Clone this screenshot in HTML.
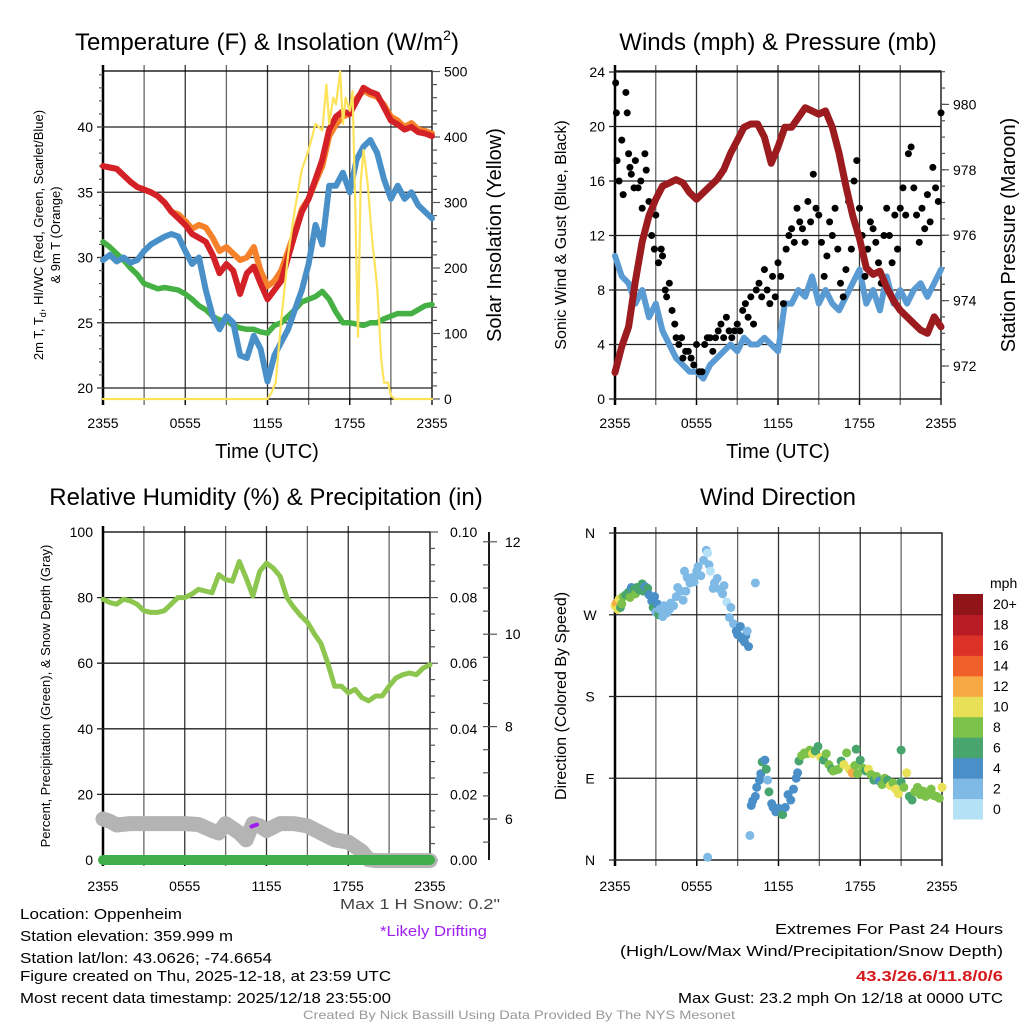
<!DOCTYPE html>
<html><head><meta charset="utf-8"><style>
html,body{margin:0;padding:0;background:#fff;}
svg{display:block;font-family:"Liberation Sans",Arial,sans-serif;}
</style></head><body>
<svg id="chart" xmlns="http://www.w3.org/2000/svg" width="1024" height="1024" viewBox="0 0 1024 1024">
<rect x="0" y="0" width="1024" height="1024" fill="#fff"/>
<g id="texts" fill="#000">
<text x="267" y="50" font-size="24" text-anchor="middle">Temperature (F) &amp; Insolation (W/m<tspan font-size="14" dy="-10">2</tspan><tspan dy="10">)</tspan></text>
<text x="778" y="50" font-size="24" text-anchor="middle">Winds (mph) &amp; Pressure (mb)</text>
<text x="266" y="505" font-size="24" text-anchor="middle">Relative Humidity (%) &amp; Precipitation (in)</text>
<text x="778" y="505" font-size="24" text-anchor="middle">Wind Direction</text>
<text x="267" y="458" font-size="20" text-anchor="middle">Time (UTC)</text>
<text x="778" y="458" font-size="20" text-anchor="middle">Time (UTC)</text>
<text transform="translate(43,235) rotate(-90)" font-size="13" text-anchor="middle">2m T, T<tspan font-size="9" dy="3">d</tspan><tspan dy="-3">, HI/WC (Red, Green, Scarlet/Blue)</tspan></text>
<text transform="translate(60,235) rotate(-90)" font-size="13" text-anchor="middle">&amp; 9m T (Orange)</text>
<text transform="translate(501,235) rotate(-90)" font-size="20" text-anchor="middle">Solar Insolation (Yellow)</text>
<text transform="translate(566,235) rotate(-90)" font-size="16" text-anchor="middle">Sonic Wind &amp; Gust (Blue, Black)</text>
<text transform="translate(1015,235) rotate(-90)" font-size="20" text-anchor="middle">Station Pressure (Maroon)</text>
<text transform="translate(50,696) rotate(-90)" font-size="13" text-anchor="middle">Percent, Precipitation (Green), &amp; Snow Depth (Gray)</text>
<text transform="translate(566,696) rotate(-90)" font-size="16" text-anchor="middle">Direction (Colored By Speed)</text>
<text x="990" y="588" font-size="14">mph</text>
<g font-size="15">
<text x="20" y="919" textLength="162" lengthAdjust="spacingAndGlyphs">Location: Oppenheim</text>
<text x="20" y="941" textLength="213" lengthAdjust="spacingAndGlyphs">Station elevation: 359.999 m</text>
<text x="20" y="963" textLength="252" lengthAdjust="spacingAndGlyphs">Station lat/lon: 43.0626; -74.6654</text>
<text x="20" y="981" textLength="371" lengthAdjust="spacingAndGlyphs">Figure created on Thu, 2025-12-18, at 23:59 UTC</text>
<text x="20" y="1003" textLength="371" lengthAdjust="spacingAndGlyphs">Most recent data timestamp: 2025/12/18 23:55:00</text>
<text x="340" y="909" fill="#444" textLength="160" lengthAdjust="spacingAndGlyphs">Max 1 H Snow: 0.2"</text>
<text x="380" y="936" fill="#a020f0" textLength="107" lengthAdjust="spacingAndGlyphs">*Likely Drifting</text>
<text x="775" y="934" textLength="228" lengthAdjust="spacingAndGlyphs">Extremes For Past 24 Hours</text>
<text x="620" y="956" textLength="383" lengthAdjust="spacingAndGlyphs">(High/Low/Max Wind/Precipitation/Snow Depth)</text>
<text x="856" y="981" fill="#d7191c" font-weight="bold" textLength="147" lengthAdjust="spacingAndGlyphs">43.3/26.6/11.8/0/6</text>
<text x="678" y="1003" textLength="325" lengthAdjust="spacingAndGlyphs">Max Gust: 23.2 mph On 12/18 at 0000 UTC</text>
</g>
<text x="303" y="1019" font-size="12" fill="#999" textLength="432" lengthAdjust="spacingAndGlyphs">Created By Nick Bassill Using Data Provided By The NYS Mesonet</text>
</g>
</svg>
<script>
// ---------- DATA ----------
const timeLabels = ["2355","0555","1155","1755","2355"];
const halfHours = [0,0.5,1,1.5,2,2.5,3,3.5,4,4.5,5,5.5,6,6.5,7,7.5,8,8.5,9,9.5,10,10.5,11,11.5,12,12.5,13,13.5,14,14.5,15,15.5,16,16.5,17,17.5,18,18.5,19,19.5,20,20.5,21,21.5,22,22.5,23,23.5,24];
const tempRed = [37.0,36.9,36.8,36.3,35.8,35.4,35.2,35.0,34.7,34.2,33.5,33.0,32.5,31.8,31.5,31.2,30.2,28.8,29.5,29.0,27.2,28.8,29.3,28.0,26.8,27.5,28.2,30.0,31.8,33.5,34.5,36.0,37.5,39.8,40.8,41.2,41.0,42.0,43.0,42.7,42.5,41.5,40.5,40.2,39.8,40.0,39.6,39.5,39.3];
const temp9mOrange = [37.0,36.9,36.8,36.3,35.8,35.4,35.2,35.0,34.7,34.2,33.5,33.3,32.8,32.2,32.5,32.3,31.5,30.5,30.8,30.3,29.8,30.0,30.8,29.0,27.8,28.2,29.0,30.5,32.0,33.7,34.5,35.8,37.0,39.3,40.2,40.8,41.0,42.2,42.8,42.5,42.3,41.7,40.8,40.5,40.0,40.3,39.8,39.7,39.5];
const dewBlue = [29.8,30.2,29.7,30.0,29.6,29.8,30.5,31.0,31.3,31.6,31.8,31.6,30.5,29.5,30.0,27.5,25.5,24.5,25.5,25.0,22.5,22.3,24.0,23.0,20.5,22.5,23.5,24.5,26.0,27.5,29.5,32.5,31.0,35.5,35.5,36.5,35.0,37.5,38.5,39.0,38.0,36.0,34.5,35.5,34.5,35.0,34.0,33.5,33.0];
const dewGreen = [31.2,30.8,30.3,29.8,29.2,28.7,28.0,27.8,27.6,27.7,27.6,27.5,27.2,26.8,26.3,26.0,25.5,25.2,25.2,24.8,24.6,24.5,24.5,24.3,24.2,24.8,25.0,25.5,26.0,26.6,26.8,27.0,27.4,26.8,25.8,25.0,25.0,24.9,24.8,25.0,25.0,25.3,25.5,25.7,25.7,25.7,26.0,26.3,26.4];
const solarTimes = [0,12,12.3,12.6,13,13.5,14,14.5,15,15.5,16,16.3,16.5,16.8,17,17.3,17.5,17.7,18,18.2,18.4,18.6,18.8,19,19.3,19.6,20,20.3,20.5,20.8,21,21.3,24];
const solarValues = [0,0,10,25,120,220,290,350,380,420,410,480,420,460,450,500,420,460,440,470,300,95,330,380,330,250,170,60,25,25,5,0,0];
const windSustained = [10.5,9,8.5,7,8,6,7,5,4,3,2.5,2,2,1.5,2.5,3,3.5,4,3.5,4.5,4,4,4.5,4,3.5,7,7,8,7.5,9,7,8,7,6.5,7.5,8.5,9.5,7,8,6.5,9,7,8,7,8,8.5,7.5,8.5,9.5];
const pressure = [971.8,972.6,973.2,974.6,975.8,976.6,977.1,977.5,977.6,977.7,977.6,977.3,977.1,977.3,977.5,977.7,978.0,978.5,978.9,979.3,979.4,979.4,979.0,978.2,978.7,979.3,979.3,979.6,979.9,979.8,979.7,979.8,979.3,978.5,977.5,976.6,975.9,975.0,974.8,974.9,974.4,974.0,973.7,973.5,973.3,973.1,973.0,973.5,973.2];
const gustTimes = [0.05,0.1,0.15,0.3,0.5,0.6,0.8,0.9,1.0,1.1,1.2,1.4,1.5,1.7,1.9,2.0,2.2,2.3,2.5,2.7,2.9,3.0,3.2,3.4,3.5,3.7,3.8,4.0,4.2,4.4,4.5,4.7,4.9,5.0,5.2,5.4,5.6,5.8,6.0,6.2,6.4,6.6,6.8,7.0,7.2,7.4,7.6,7.8,8.0,8.2,8.4,8.6,8.8,9.0,9.2,9.4,9.6,9.8,10.0,10.2,10.4,10.6,10.8,11.0,11.2,11.4,11.6,11.8,12.0,12.2,12.4,12.6,12.8,13.0,13.2,13.4,13.6,13.8,14.0,14.2,14.4,14.6,14.8,15.0,15.2,15.4,15.6,15.8,16.0,16.2,16.4,16.6,16.8,17.0,17.2,17.4,17.6,17.8,18.0,18.2,18.4,18.6,18.8,19.0,19.2,19.4,19.6,19.8,20.0,20.2,20.4,20.6,20.8,21.0,21.2,21.4,21.6,21.8,22.0,22.2,22.4,22.6,22.8,23.0,23.2,23.4,23.6,23.8,24.0];
const gustValues = [23.2,21,17.5,16,19,15,22.5,21,18,17,16.5,15.5,17.5,15.5,16,14,18,16.8,14.5,12,11,13.5,10,11,10.5,8,7.5,8.5,6.5,5.5,4.5,4,4.5,3,3.5,3.5,3,2.5,4,2,2,4,4.5,4.5,3.5,4.5,5,5.5,4.5,6,5,4.5,5,5.5,5,6.5,7,6,7.5,5.5,8,8.5,7.5,9.5,8,7,9,7.5,10,9,7,11,12,12.5,11.5,14,13,12.5,11.5,14.5,13,16.5,14,13.5,11.5,9,10.5,13,12,14,11,8.5,7.5,9.5,14.5,11,16,17.5,14,12,9,11,13,12.5,11.5,10,8.5,12,14,12,10,13.5,11,14,15.5,13.5,18,18.5,15.5,13.5,11.5,14,12.5,15,13,17,15.5,14.5,21];
const rhValues = [79.5,78.5,78,79.5,79,78,76,75.5,75.5,76,78,80,80,81,82.5,82,81.5,87,85.5,85,91,86,80.5,88,90.5,89,86.5,80,77,74.5,72.5,69,66,60,53,53,51,52,49.5,48.5,50,50,53,55.5,56.5,57,56.5,58.5,59.5];
const snowTimes = [0,0.5,1,2,3,4,5,6,7,8,8.5,9,10,10.5,11,11.5,12,13,14,15,16,17,18,19,19.5,20,21,22,23,24];
const snowDepth = [6.0,5.95,5.87,5.9,5.9,5.9,5.9,5.9,5.88,5.75,5.7,5.9,5.7,5.55,5.9,5.85,5.75,5.9,5.9,5.85,5.7,5.55,5.5,5.3,5.12,5.1,5.1,5.1,5.1,5.1];
const precipTimes = [0,24];
const precipValues = [0,0];
const dirTimes = [0.0,0.1,0.2,0.3,0.4,0.5,0.6,0.8,1.0,1.1,1.2,1.4,1.5,1.6,1.8,2.0,2.1,2.2,2.4,2.5,2.7,2.8,2.9,3.0,3.1,3.2,3.3,3.5,3.6,3.8,4.0,4.1,4.3,4.5,4.6,4.8,5.0,5.1,5.2,5.3,5.5,5.7,5.8,6.0,6.1,6.3,6.5,6.7,6.8,6.9,7.0,7.2,7.3,7.5,7.7,7.9,8.0,8.2,8.4,8.5,8.7,8.9,9.0,9.2,9.3,9.5,9.6,9.7,9.8,10.3,6.8,9.9,10.0,10.1,10.3,10.4,10.6,10.7,10.8,11.0,11.1,11.2,11.3,11.5,11.6,11.8,12.0,12.3,12.5,12.7,12.9,13.1,13.3,13.4,13.5,13.7,13.9,14.1,14.3,14.5,14.7,14.9,15.1,15.3,15.5,15.7,15.9,16.0,16.2,16.4,16.6,16.8,17.0,17.2,17.4,17.6,17.8,18.0,18.2,18.4,18.6,18.8,19.0,19.2,19.4,19.6,19.8,20.0,20.2,20.4,20.6,20.8,21.0,21.2,21.4,21.6,21.8,22.0,22.2,22.4,22.6,22.8,23.0,23.2,23.4,23.6,23.8,24.0,21.0,17.7];
const dirDegrees = [280,283,276,287,278,282,290,292,295,289,300,298,293,300,297,304,296,301,299,292,285,278,290,273,282,270,276,268,280,272,276,283,280,290,300,296,286,318,296,311,305,311,306,318,323,313,330,341,338,325,318,299,305,310,298,293,302,284,267,278,260,252,248,257,244,240,247,252,235,305,3,27,60,65,70,80,88,95,108,110,100,88,75,62,58,53,57,50,58,72,66,78,90,96,109,115,118,117,121,117,120,125,113,110,117,105,100,98,99,100,109,105,118,100,96,104,95,110,101,98,100,94,88,92,87,83,90,88,82,85,78,73,86,80,96,70,66,75,80,72,76,70,72,78,71,70,68,80,121,122];
const dirSpeeds = [10,12,10,10,7,9,8,7,6,8,5,7,8,6,7,7,6,5,6,4,4,6,4,3,4,6,3,2,2,3,2,2,3,2,2,3,2,3,2,2,2,3,2,2,2,2,3,2,1,2,1,2,2,2,2,2,2,1,2,2,2,4,4,4,4,4,4,2,4,2,2,2,4,4,4,4,4,4,6,4,6,2,6,4,4,4,4,6,4,4,4,4,4,4,6,8,8,8,8,10,6,6,10,6,8,8,6,8,8,8,6,10,8,10,12,8,8,6,8,6,10,8,6,8,4,8,8,6,10,8,10,10,6,8,10,6,6,8,8,8,8,8,8,8,8,8,8,10,6,6];
const speedColors = ["#b5e1f7","#7fbae6","#4a8fc8","#48a56e","#7cc24a","#e8e158","#f7a945","#f0602a","#dc3127","#b91c24","#8f1519"];
const speedLabels = ["0","2","4","6","8","10","12","14","16","18","20+"];
const tempTicks = [20,25,30,35,40];
const solarTicks = [0,100,200,300,400,500];
const windTicks = [0,4,8,12,16,20,24];
const pressureTicks = [972,974,976,978,980];
const rhTicks = [0,20,40,60,80,100];
const precipTicks = ["0.00","0.02","0.04","0.06","0.08","0.10"];
const snowTicks = [6,8,10,12];
const dirTicks = ["N","E","S","W","N"];

// ---------- HELPERS ----------
const svg = document.getElementById('chart');
const NS = 'http://www.w3.org/2000/svg';
function mk(tag, attrs, parent){const e=document.createElementNS(NS,tag);for(const k in attrs)e.setAttribute(k,attrs[k]);(parent||svg).appendChild(e);return e;}
function pathD(ts, vs, xf, yf){let d='';for(let i=0;i<ts.length;i++){d+=(i?'L':'M')+xf(ts[i]).toFixed(1)+','+yf(vs[i]).toFixed(1);}return d;}

const P1={x0:103,x1:432,y0:71,y1:399};
const P2={x0:615,x1:941,y0:71,y1:399};
const P3={x0:103,x1:430,y0:532,y1:860};
const P4={x0:615,x1:942,y0:533,y1:860};
function tx(P){return t=>P.x0+t*(P.x1-P.x0)/24;}
const x1=tx(P1), x2=tx(P2), x3=tx(P3), x4=tx(P4);
const yT=v=>388-(v-20)*13.05;
const yS=v=>399-v*0.655;
const yW=v=>399-v*13.625;
const yP=v=>366-(v-972)*32.7;
const yR=v=>860-v*3.28;
const yPr=v=>860-v*3280;
const ySn=v=>819-(v-6)*46.2;
const yD=v=>860-v/360*327;

function frame(P, name, xf, labelY){
  const g=mk('g',{});
  
  
  for(let t=3;t<24;t+=3){
    const l=mk('line',{x1:xf(t),x2:xf(t),y1:P.y0-6,y2:P.y1+6,stroke:(t%6==0)?'#333':'#666','stroke-width':1.3},g);
    
    
  }
  const r=mk('rect',{x:P.x0,y:P.y0,width:P.x1-P.x0,height:P.y1-P.y0,fill:'none',stroke:'#000','stroke-width':1.3},g);
  
  
  const la=mk('line',{x1:P.x0,x2:P.x0,y1:P.y0-6,y2:P.y1+6,stroke:'#000','stroke-width':2.5},g);
  
  
  for(let i=0;i<timeLabels.length;i++){
    const t=i*6;
    const tk=mk('line',{x1:xf(t),x2:xf(t),y1:P.y1,y2:P.y1+6,stroke:'#000','stroke-width':1.3},g);
    
    
    const tt=mk('text',{x:xf(t),y:labelY,'font-size':14,'text-anchor':'middle'},g);
    tt.textContent=timeLabels[i];
    
    
  }
  return g;
}
function hgrid(P, y, name){
  const l=mk('line',{x1:P.x0-6,x2:P.x1,y1:y,y2:y,stroke:'#222','stroke-width':1.3});
  
  
}
function ylabel(x, y, txt, anchor, name, size){
  const t=mk('text',{x:x,y:y+5,'font-size':size||14,'text-anchor':anchor});
  t.textContent=txt;
  
  
}
function rtick(x,y,len,name,P){
  if(P && (y<P.y0-0.5 || y>P.y1+0.5)) return;
  const l=mk('line',{x1:x,x2:x+len,y1:y,y2:y,stroke:'#555','stroke-width':1.2});
  
  
}
function line(d, color, w, name){
  const p=mk('path',{d:d,fill:'none',stroke:color,'stroke-width':w,'stroke-linejoin':'round','stroke-linecap':'round'});
  
  
  return p;
}

// ---------- PANEL 1 ----------
frame(P1,'temp',x1,428);
tempTicks.forEach(v=>{hgrid(P1,yT(v),'temp-y-grid');ylabel(P1.x0-10,yT(v),String(v),'end','temp-y-tick-label');});
for(let v=20;v<=44;v++){rtick(P1.x0-4,yT(v),4,'temp-minor-tick',P1);}
for(let v=0;v<=500;v+=20){rtick(P1.x1,yS(v),v%100==0?8:5,'solar-tick',P1);}
solarTicks.forEach(v=>ylabel(P1.x1+12,yS(v),String(v),'start','solar-tick-label'));
line(pathD(halfHours,dewGreen,x1,yT),'#45b043',5.5,'dewpoint-green-line');
line(pathD(halfHours,dewBlue,x1,yT),'#4a90c8',6,'windchill-blue-line');
line(pathD(halfHours,temp9mOrange,x1,yT),'#f5822a',6,'temp-9m-orange-line');
line(pathD(halfHours,tempRed,x1,yT),'#d42027',6,'temp-2m-red-line');
line(pathD(solarTimes,solarValues,x1,yS),'#fde35a',2.2,'solar-insolation-line');

// ---------- PANEL 2 ----------
frame(P2,'wind',x2,428);
windTicks.forEach(v=>{hgrid(P2,yW(v),'wind-y-grid');ylabel(P2.x0-10,yW(v),String(v),'end','wind-y-tick-label');});
for(let v=971.5;v<=981.5;v+=0.5){rtick(P2.x1,yP(v),4,'pressure-minor-tick',P2);}
pressureTicks.forEach(v=>{rtick(P2.x1,yP(v),8,'pressure-tick',P2);ylabel(P2.x1+12,yP(v),String(v),'start','pressure-tick-label');});
line(pathD(halfHours,windSustained,x2,yW),'#5a9bd3',6,'sustained-wind-line');
const gustG=mk('g',{fill:'#000'});


for(let i=0;i<gustTimes.length;i++){
  const c=mk('circle',{cx:x2(gustTimes[i]),cy:yW(gustValues[i]),r:3.5},gustG);
  
  
}
line(pathD(halfHours,pressure,x2,yP),'#9b1b1e',7,'pressure-line');

// ---------- PANEL 3 ----------
frame(P3,'rh',x3,891);
rhTicks.forEach(v=>{if(v>0&&v<100)hgrid(P3,yR(v),'rh-y-grid');ylabel(P3.x0-10,yR(v),String(v),'end','rh-y-tick-label');});
for(let v=0;v<=0.1001;v+=0.005){rtick(P3.x1,yPr(v),Math.round(v*1000)%20==0?8:5,'precip-tick',P3);}
precipTicks.forEach(s=>ylabel(P3.x1+20,yPr(parseFloat(s)),s,'start','precip-tick-label'));
const sa=mk('line',{x1:489,x2:489,y1:P3.y0,y2:P3.y1,stroke:'#000','stroke-width':1.8});


for(let v=5.5;v<=12.5;v+=0.5){rtick(483,ySn(v),6,'snow-minor-tick',P3);}
snowTicks.forEach(v=>{rtick(489,ySn(v),8,'snow-tick',P3);ylabel(505,ySn(v),String(v),'start','snow-tick-label');});
line(pathD(snowTimes,snowDepth,x3,ySn),'#b4b4b4',15,'snow-depth-line');
line(pathD(halfHours,rhValues,x3,yR),'#8cc64e',5,'relative-humidity-line');
line(pathD(precipTimes,precipValues,x3,yPr),'#3fae49',10,'precipitation-line');
line('M'+x3(10.9)+','+yR(10.2)+'L'+x3(11.3)+','+yR(10.8),'#a020f0',4,'drifting-marker');

// ---------- PANEL 4 ----------
frame(P4,'dir',x4,891);
dirTicks.forEach((s,i)=>{const y=yD(i*90);hgrid(P4,y,'dir-y-grid');ylabel(P4.x0-25,y,s,'middle','dir-tick-label');});
const dg=mk('g',{});


for(let i=0;i<dirTimes.length;i++){
  const idx=Math.min(10,Math.floor(dirSpeeds[i]/2));
  const c=mk('circle',{cx:x4(dirTimes[i]),cy:yD(dirDegrees[i]),r:4.5,fill:speedColors[idx]},dg);
  
  
}
// colorbar
const boxH=(819-594)/11;
for(let i=0;i<11;i++){
  const y=594+(10-i)*boxH;
  const b=mk('rect',{x:953,y:y,width:30,height:boxH+0.5,fill:speedColors[i]});
  
  
  const t=mk('text',{x:993,y:y+boxH/2+5,'font-size':14});
  t.textContent=speedLabels[i];
  
  
}
</script>
</body></html>
